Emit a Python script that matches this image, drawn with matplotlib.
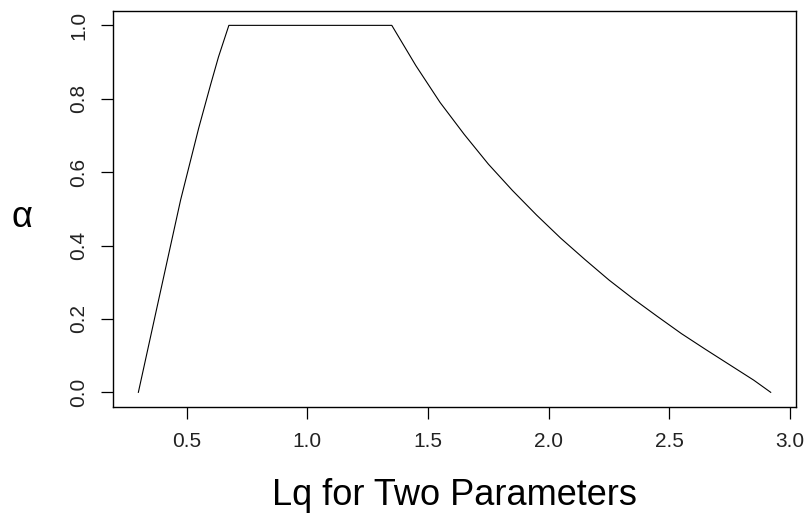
import matplotlib
matplotlib.use('Agg')
import matplotlib.pyplot as plt
import numpy as np

plt.rcParams['font.family'] = ['Liberation Sans', 'DejaVu Sans']

# rising part
x_up = [0.30, 0.384, 0.475, 0.55, 0.60, 0.632, 0.675]
a_up = [0.00, 0.252, 0.524, 0.72, 0.84, 0.914, 1.00]
# flat top
x_flat = [0.675, 1.35]
a_flat = [1.0, 1.0]
# decaying part
x_down = [1.35, 1.45, 1.55, 1.65, 1.75, 1.85, 1.95, 2.05, 2.15, 2.25,
          2.35, 2.45, 2.55, 2.65, 2.75, 2.85, 2.92]
a_down = [1.000, 0.890, 0.790, 0.703, 0.622, 0.550, 0.483, 0.420, 0.362, 0.306,
          0.255, 0.207, 0.160, 0.117, 0.075, 0.033, 0.000]

x = np.array(x_up + x_flat[1:] + x_down[1:])
a = np.array(a_up + a_flat[1:] + a_down[1:])

fig = plt.figure(figsize=(8.09, 5.21), dpi=100)
ax = fig.add_axes([0.1397, 0.2188, 0.8443, 0.7607])
ax.plot(x, a, color='black', lw=0.8)

ax.set_xlim(0.195, 3.025)
ax.set_ylim(-0.04, 1.04)
ax.set_xticks([0.5, 1.0, 1.5, 2.0, 2.5, 3.0])
ax.set_yticks([0.0, 0.2, 0.4, 0.6, 0.8, 1.0])
ax.set_xticklabels(['0.5', '1.0', '1.5', '2.0', '2.5', '3.0'])
ax.set_yticklabels(['0.0', '0.2', '0.4', '0.6', '0.8', '1.0'], rotation=90, va='center')
ax.tick_params(length=8.6, width=0.9, labelsize=15, colors='black', labelcolor='#222222')
ax.tick_params(axis='x', pad=9.5)
ax.tick_params(axis='y', pad=9)

for s in ax.spines.values():
    s.set_linewidth(1.0)

ax.set_xlabel('Lq for Two Parameters', fontsize=26)
ax.xaxis.set_label_coords(0.5, -0.18)
ax.set_ylabel('α', fontsize=26, rotation=0, va='center', ha='center')
ax.yaxis.set_label_coords(-0.133, 0.477)

fig.savefig('out.png', dpi=100)
